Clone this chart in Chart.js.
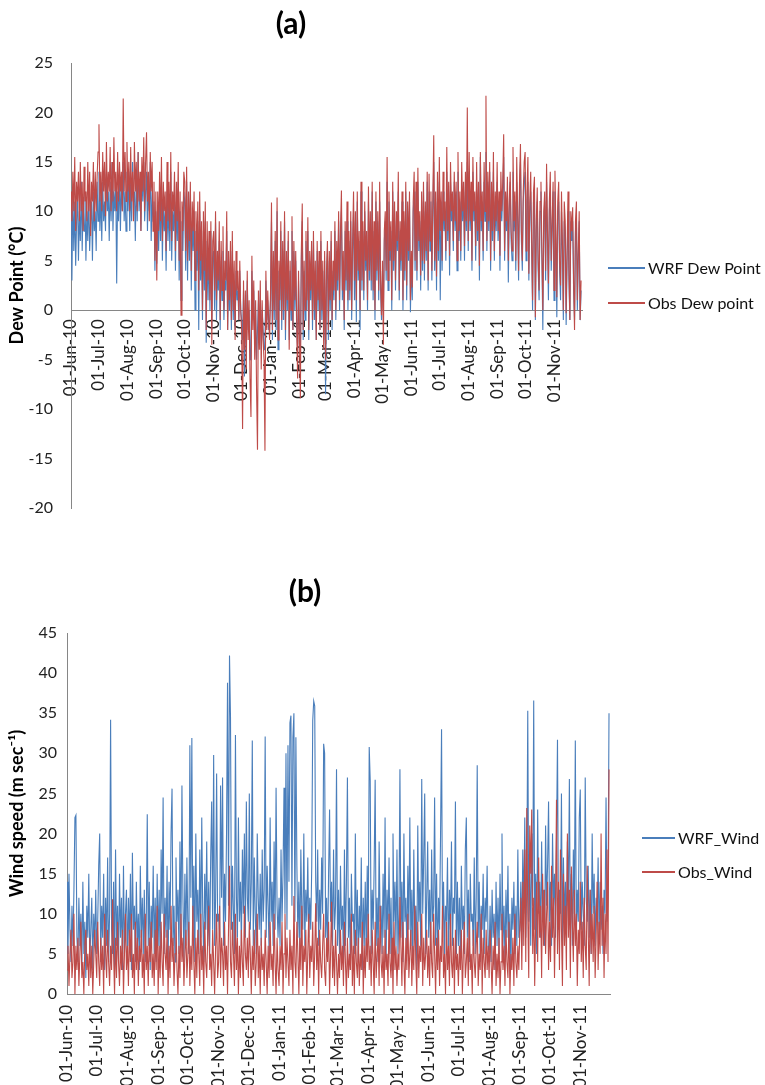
<!DOCTYPE html>
<html>
<head>
<meta charset="utf-8">
<script src="https://cdn.jsdelivr.net/npm/chart.js@4.4.1/dist/chart.umd.min.js"></script>
<style>
html,body{margin:0;padding:0;background:#fff;}
#page{position:relative;width:765px;height:1085px;overflow:hidden;font-family:Lato,sans-serif;background:#fff;}
canvas{position:absolute;left:0;}
.ln{position:absolute;height:2px;}
.tx{position:absolute;font-size:16px;line-height:20px;height:20px;color:#111;white-space:nowrap;}
</style>
</head>
<body>
<div id="page">
  <canvas id="chartA" width="765" height="545" style="top:0"></canvas>
  <canvas id="chartB" width="765" height="540" style="top:545px"></canvas>

  <div class="ln" style="left:608px;top:267px;width:37px;background:#4A7EBB"></div>
  <div class="tx" style="left:648px;top:258px">WRF Dew Point</div>
  <div class="ln" style="left:608px;top:302px;width:37px;background:#BE4B48"></div>
  <div class="tx" style="left:648px;top:293px">Obs Dew point</div>

  <div class="ln" style="left:642px;top:837px;width:33px;background:#4A7EBB"></div>
  <div class="tx" style="left:678px;top:828px">WRF_Wind</div>
  <div class="ln" style="left:642px;top:871px;width:33px;background:#BE4B48"></div>
  <div class="tx" style="left:678px;top:862px">Obs_Wind</div>
</div>
<script>
// ---- x axis: month ticks (day index from 01-Jun-2010) ----
const monthTickDays = [0,30,61,92,122,153,183,214,245,273,304,334,365,395,426,457,487,518];
const monthTickLabels = ['01-Jun-10','01-Jul-10','01-Aug-10','01-Sep-10','01-Oct-10','01-Nov-10',
  '01-Dec-10','01-Jan-11','01-Feb-11','01-Mar-11','01-Apr-11','01-May-11','01-Jun-11','01-Jul-11',
  '01-Aug-11','01-Sep-11','01-Oct-11','01-Nov-11'];
const FIRST_DAY = 0;
const LAST_DAY = 547;   // 30-Nov-2011

// ---- (a) Dew point, daily readings (deg C), one row per month ----
const obsDewPoint = [
  12,9,14,10,15.5,8,13,11,14,9,15,10,13,8,14.5,11,12,9,15,10,14,7.5,13,11,15,9,14,10,13.5,16,
  18.8,11,14,10,16,12,15,9.5,17,11,14,12,16.5,10,15,11,17.5,12,14,10,16,11,15,12,14,10,21.4,12,16,11,17,
  12,15,10,16.5,11,14,9,17,12,15,10,16,11,14,8,15.5,12,17.5,10,15,18,11,14,9,16,12,15,8,13,5,12,
  3,12,8,14,9,15.5,7,13,10,12,6,15,9,13,8,16,7,12,10,14,6,13,9,15,5,12,-0.5,11,8,14,
  13,6,14.5,5,12,7,13,4,11,8,12,3,10,6,11,2,12,5,9,0,10,4,11,-2,9,3,8,1,9,-3.5,7,
  8,2,10,1,6,3,9,-1,7,2,8.5,0,5,3,10,-2,6,1,7,-1,8,0,5,-3,6,2,4,-1,5,0,
  -2,-12,3,-4,2,-6,4,-3,1,-7,-10.8,5.5,-2,3,-5,1,-8,-14.1,2,-4,3,-6,1,-3,-5,-14.2,4,-2,2,-1,-3,
  2,10.9,-2,6,0,8,-1,11.4,-3,5,1,9,-1,7,0,10,-2,6,1,8,-4,5,0,9.5,-2,7,1,6,-1,-6.9,4,
  -3,-8.9,6,10.8,-2,5,0,8,1,9.4,-2,6,2,7,-1,8,0,5,-3,7,1,6,-2,8,0,5,-4,6,
  -5,4,7,-2,6,1,8,-1,5,2,9,0,7,3,10,1,8,12.1,2,6,-1,9,3,11,1,8,2,10,0,7,12,
  3,10,1,12,4,8,0,13,3,9,2,11,5,8,1,12.5,4,10,3,13,2,9,0,12,4,10,2,13,3,-0.5,
  5,-3.5,8,10,4,15.5,3,12,6,9,1,13,5,11,3,10,7,14,2,9,5,12,1,10,4,13,2.5,11,6,12,1,
  6,2.3,11,14,5,13,4,14.4,7,10,3.5,12,5,13,4.7,11,6,14,3,13.8,7,12,4,11,17.7,5,12,3.4,14,6,
  15.5,8,12,5,14,9,11,6,16.5,8,13,5.5,15,10,12,7,14,9,13,5,16,8,12,6,15,10,13,6.5,14,9,20.5,
  7,16,9,13,5,15.5,10,12,6.5,15,8,13,4.5,16,9,12,6,15,10,21.7,7,14,9,15,5,13,8,16,6,12,9,
  15,8,12,5.5,14,10,13,17.8,6,12,9,13.5,5,11,14,8,6,16.5,9,12,5,15.5,10,4,13,16.8,8,5,12,15,
  16,6,12,15.5,3.7,11,14,7,1,12,13.5,-0.7,9,12.4,5,2,11,13,6,0,10,12,4,14.8,8,2.7,11,14,5,9,13,
  2,14.1,8,1.3,11,13,5,2.5,12,7,0,11,9,-0.3,6,12,4,-1,10,8,10.4,3,-2,9,11,1,6,10,-1,3
];
const wrfDewPoint = [
  10,3,12,6,11,4.5,9,12,5,10,7,13,6,11,8,12,5,10,7,12,6,9,11,5,12,8,10,6,13,9,
  14,8,12,7,13,9,11,8,14,10,12,7,13,9,15,8,12,10,13,2.7,12,9,14,8,13,10,15,9,12,8,14,
  10,14,8,13,9,15,11,12,7,14,9,16,10,13,8,14,11,15,9,12,14,8,13,10,15,7,12,9,11,4,10,
  4.7,10,6,12,7,13,5,11,8,10,4,12,7,11,6,14,5,10,8,12,4,11,7,13,3,10,1,9,6,12,
  11,4,13,3,10,5,12,2,9,6,10,0,8,4,9,-2,10,3,7,-1,8,2,9,-3.3,7,1,6,0,8,-2,5,
  6,0,8.9,-1,4,2,7,-2,5,1,6,-1,3,2,8,-2,4,0,5,-2,6,-1,3,-2,4,1,2,-1,4,0,
  -1,-3,2,-6.7,1,-4,3,-2,0,-5,-3,4,-1,2,-4,0,-5,-2,1,-3,2,-4,0,-2,-4,-3,3,-1,1,-2,-1,
  1,9,-3,5,-1,7,-2,10,-4,4,0,8,-2,6,-1,9,-3,5,0,7,-3,4,-1,8,-2,6,0,5,-2,-4,3,
  -2,-4,5,9,-3,4,-1,7,0,8,-3,5,1,6,-2,7,-1,4,-3,6,0,5,-2,7,-1,4,-3,5,
  -8.5,3,6,-3,5,0,7,-2,4,1,8,-1,6,2,9,0,7,10,1,5,-2,8,2,9,0,7,1,9,-1,6,10,
  1,9,-1.2,11,3,7,-2,12,2,8,1,10,4,7,0,11,3,9,2,12,1,8,-1,11,3,9,1,11,2,-1,
  4,0,7,9,3,13,2,11,5,8,0,12,4,10,2,9,6,12,1,8,4,11,0,9,3,12,1,10,5,11,-0.2,
  5,1,10,12,4,12,3,13,6,9,2,11,4,12,3,10,5,13,2,12,6,11,3,10,15,4,11,2,12,5,
  13,1,11,4,12,8,10,5,14,7,12,3.5,13,9,11,6,13,8,12,4,14,7,11,5,13,9,12,5,13,8,15,
  6,14,8,12,4,14,9,11,5,13,7,12,3,15.5,8,11,5,13,9,16,6,13,8,14,4,12,7,14,5,11,8,
  13,7,11,4,12,9,12,15.5,5,11,8,12,2.8,10,13,7,5,14,8,11,4,13,9,3,12,15,7,4,11,13,
  14,5,11,13,3,10,12,6,0,11,12,-1,8,11,4,1,10,12,5,-2,9,11,3,13,7,1,10,12,4,8,12,
  1,12,7,-0.7,10,11,4,1,10,6,-1,9,8,-1.5,5,10,3,-1,9,7,9,2,-1,8,9,0,5,9,-1,2
];

// ---- (b) Wind speed, daily readings (m/s), one row per month ----
const wrfWind = [
  14,5,15,8,4,11,6,13,22,22.3,7,4,12,6,10,3,14,5,9,2,11,7,15,4,8,12,3,10,6,13,
  5,9,16,20,4,11,7,15,3,12,6,17,4,10,34.2,8,5,14,3,18,6,11,4,15,7,12,3,16,5,10,13,
  4,12,6,15,3,17.6,8,11,4,14,6,10,3,16,7,12,5,13,4,9,22.4,6,14,3,11,7,16,5,12,4,15,
  6,13,4,18,10,24.5,5,12,7,16,3,14,8,20,25.6,6,11,4,17,9,13,5,19,7,26,12,4,15,6,17,
  8,5,31,12,31.9,6,16,4,20,9,13,5,18,7,22,10,4,15,8,19,6,14,5,17,24,8,29.8,6,12,27.5,9,
  10,7,26,12,27,6,15,9,20,38.8,11,42.2,34.5,8,16,10,5,32.3,12,7,22,9,14,6,18,10,20,7,24,12,
  9,25,8,14,31.6,6,17,10,5,20,12,8,15,6,18,9,13,32.1,7,16,11,5,22,9,14,6,19,8,25.7,11,7,
  12,6,18,9,15,25.7,10,30,8,31,14,33.8,34.7,11,32,35,9,32,16,7,14,5,18,10,8,20,6,13,9,17,7,
  12,8,16,34.1,36.5,35.9,14,9,18,6,13,8,17,10,31.2,30,7,12,5,15,23,9,14,6,18,8,11,28,
  6,13,5,16,8,11,4,18,6,14,27,7,12,3,15,9,10,5,20,6,13,4,11,7,17,3,12,6,14,5,16,
  7,30.8,26.6,5,13,8,16,26.7,6,12,4,19,9,11,5,15,7,22,4,13,8,17,5,12,3,20,9,14,6,18,
  5,10,28,7,14,4,20,9,12,5,16,8,22,6,13,4,18,7,11,3,21,9,14,6,26.8,10,17,25,5,12,19,
  7,13,5,18,9,11,24.5,6,15,4,12,8,20,33,7,14,5,11,9,17,4,13,8,19,6,12,10,24,5,14,
  6,12,4,16,8,11,5,18,22,7,13,4,15,9,10,6,17,5,12,28.5,7,14,4,11,8,15,5,12,9,16,6,
  5,11,4,13,7,10,3,14,6,12,5,15,8,20,6,11,4,13,7,16,5,10,3,12,8,14,5,11,6,18,7,
  8,14,6,18,10,22,7,13,35.3,9,16,6,20,11,36.6,8,15,5,23,10,14,7,19,9,13,6,21,11,16,24,
  9,14,6,20,11,15,7,19,31.7,8,13,10,25,6,17,9,14,7,19,11,26.8,8,15,6,18,10,31.6,7,13,9,22,
  25.5,8,14,10,6,27,12,9,16,7,13,5,20,10,15,6,12,9,17,7,14,8,11,5,13,10,24.5,9,12,35
];
const obsWind = [
  3,6,1,5,8,2,4,10,0,6,3,7,1,5,9,2,4,0,6,8,3,5,1,7,2,6,0,4,8,5,
  2,9,4,1,7,3,6,0,10,5,2,8,4,1,6,3,11.8,5,0,7,2,9,4,1,6,3,8,0,5,10,3,
  6,1,8,4,10,2,5,0,9,3,7,1,6,4,8,2,5,0,10,3,6,1,7,4,9,2,5,1,8,3,11,
  0,6,2,9,4,1,10,5,3,8,0,6,2,11,4,7,1,5,9,3,0,6,2,10,4,7,1,5,8,2,
  5,9,1,6,3,11,4,0,7,2,8,5,1,10,3,6,0,9,4,2,7,11,3,5,1,8,4,0,6,10,2,
  4,11,2,7,5,1,9,3,6,0,8,16,4,2,9,5,1,10,3,7,0,6,2,8,4,1,11,5,3,7,
  2,9,5,0,6,3,8,1,4,10,2,6,0,7,3,5,1,8,4,0,6,2,9,3,5,1,10,4,0,7,3,
  1,6,3,9,0,5,10,2,7,4,1,8,3,6,0,12.2,4,2,9,5,0,7,3,11,1,6,4,8,0,5,10,
  2,6,4,9,1,5,11.3,3,7,0,8,4,2,6,10,3,1,7,4,9,0,5,11.5,2,6,1,8,4,
  0,5,2,8,3,6,1,9,4,0,7,2,5,3,10,1,6,0,8,4,2,7,1,5,3,9,0,6,2,7,4,
  10,3,6,1,8,4,0,9,2,5,7,1,11,4,2,6,0,8,3,5,1,10,4,2,7,0,9,3,6,1,
  5,3,12.1,6,1,9,4,0,7,3,10,2,5,8,1,6,3,11,4,0,9,2,6,4,10,1,7,3,5,8,2,
  6,1,9,4,2,10,5,0,7,3,8,1,6,4,11,2,5,0,9,3,6,1,10,4,2,7,0,8,3,5,
  1,6,3,8,0,5,9,2,4,7,1,10,3,5,0,8,4,2,6,9,1,5,3,10,0,7,4,2,8,3,6,
  2,8,4,0,6,3,9,1,5,2,7,0,4,10,3,6,1,8,4,2,9,0,5,3,7,1,10,4,2,6,3,
  8,12,3,14,6,18,4,23.2,10,2,21,15,23,5,12,1,9,14,4,17,7,11,2,15,6,13,5,10,14,3,
  9,4,16,7,12,2,10,24.2,5,14,3,18,8,1,15,6,11,3,20,7,13,2,15.9,9,4,13,6,10,1,8,5,
  14,4,9,2,12,6,3,16,8,1,13,5,10,4,11,2,7,14,3,9,5,20,6,12,2,10,5,18,4,28
];

// ---- helpers ----
function toPoints(arr) {
  const step = (LAST_DAY - FIRST_DAY) / (arr.length - 1);
  return arr.map((v, i) => ({ x: FIRST_DAY + i * step, y: v }));
}
const BLUE = '#4A7EBB';
const RED = '#BE4B48';
const AXIS = '#868686';
const TEXT = '#222';
Chart.defaults.font.family = 'Lato, "Open Sans", sans-serif';

function xScale(position, tickPadding, fixedHeight) {
  const s = {
    type: 'linear', position: position, min: 0, max: 548,
    afterBuildTicks: sc => { sc.ticks = monthTickDays.map(v => ({ value: v })); },
    ticks: {
      autoSkip: false, minRotation: 90, maxRotation: 90, padding: tickPadding,
      color: TEXT, font: { size: 17 },
      callback: v => monthTickLabels[monthTickDays.indexOf(v)]
    },
    grid: { display: false, drawTicks: false },
    border: { display: true, color: AXIS, width: 1 }
  };
  if (fixedHeight) s.afterFit = sc => { sc.height = fixedHeight; };
  return s;
}
function yScale(min, max, width, tickPadding, title) {
  return {
    type: 'linear', min: min, max: max,
    afterFit: sc => { sc.width = width; },
    ticks: { stepSize: 5, padding: tickPadding, color: TEXT, font: { size: 16 } },
    grid: { display: false, drawTicks: false },
    border: { display: true, color: AXIS, width: 1 },
    title: { display: true, text: title, color: '#000', font: { size: 18, weight: 'bold' }, padding: { top: 6, bottom: 0 } }
  };
}
function lineDs(label, data, color, order) {
  return {
    label: label, data: toPoints(data), borderColor: color, backgroundColor: color,
    borderWidth: 1.1, pointRadius: 0, tension: 0, fill: false, order: order,
    borderJoinStyle: 'miter'
  };
}

new Chart(document.getElementById('chartA'), {
  type: 'line',
  data: { datasets: [
    lineDs('WRF Dew Point', wrfDewPoint, BLUE, 1),
    lineDs('Obs Dew point', obsDewPoint, RED, 0)
  ] },
  options: {
    responsive: false, animation: false, devicePixelRatio: 1, parsing: false,
    layout: { padding: { left: 0, top: 0, right: 183, bottom: 37 } },
    plugins: {
      legend: { display: false }, tooltip: { enabled: false },
      title: { display: true, text: '(a)', color: '#000', font: { size: 30, weight: 'bold' }, padding: { top: 6, bottom: 21 } }
    },
    scales: {
      x: xScale({ y: 0 }, 9, null),
      y: yScale(-20, 25, 71, 18, 'Dew Point (°C)')
    }
  }
});

new Chart(document.getElementById('chartB'), {
  type: 'line',
  data: { datasets: [
    lineDs('WRF_Wind', wrfWind, BLUE, 1),
    lineDs('Obs_Wind', obsWind, RED, 0)
  ] },
  options: {
    responsive: false, animation: false, devicePixelRatio: 1, parsing: false,
    layout: { padding: { left: 0, top: 0, right: 155, bottom: 0 } },
    plugins: {
      legend: { display: false }, tooltip: { enabled: false },
      title: { display: true, text: '(b)', color: '#000', font: { size: 30, weight: 'bold' }, padding: { top: 29, bottom: 23 } }
    },
    scales: {
      x: xScale('bottom', 11, 91),
      y: yScale(0, 45, 67, 10, 'Wind speed (m sec⁻¹)')
    }
  }
});
</script>
</body>
</html>
